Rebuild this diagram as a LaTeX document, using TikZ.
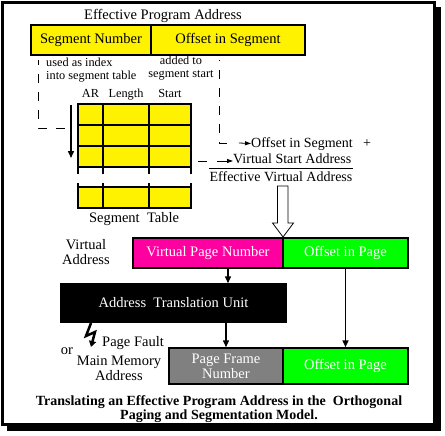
\documentclass[tikz,border=0pt]{standalone}
\usepackage{fontspec}
\setmainfont{Liberation Serif}
\usetikzlibrary{positioning, arrows.meta, calc}
\definecolor{VAMagenta}{RGB}{255,0,160}
\definecolor{VAGreen}{RGB}{0,255,0}
\definecolor{PFGray}{RGB}{128,128,128}

\begin{document}
\begin{tikzpicture}[x=1pt, y=-1pt,
          lbl/.style={font=\fontsize{14.5}{15}\selectfont, inner sep=0pt,
                      align=center},
          sumlbl/.style={font=\fontsize{14}{15}\selectfont, inner sep=0pt},
          note/.style={font=\fontsize{12.3}{12.5}\selectfont, inner sep=0pt},
          field/.style={draw, line width=1.5pt, minimum height=30pt,
                        inner sep=0pt, align=center,
                        font=\fontsize{14.5}{15}\selectfont},
          cell/.style={draw, line width=1.5pt, fill=yellow,
                       minimum height=21pt, inner sep=0pt},
          dashline/.style={dash pattern=on 9pt off 9pt, line width=0.8pt},
          tip/.style={-{Triangle[length=6pt, width=4pt]}, line width=0.8pt},
          arr/.style={-{Triangle[length=7pt, width=6pt]}, line width=1.5pt}
        ]
        \useasboundingbox (0,0) rectangle (445,436);
        \fill[white] (0,0) rectangle (445,436);

        % Frame with shadow
        \fill (7,7) rectangle (441,431);
        \draw[line width=3pt, fill=white] (2.5,2.5) rectangle (434,424);

        % Effective program address
        \node[lbl, anchor=base] (eptitle) at (163,20) {Effective Program Address};
        \node[field, fill=yellow, minimum width=120pt] (segnum) at (91,40)
              {Segment Number};
        \node[field, fill=yellow, minimum width=154pt] (offseg) at (228,40)
              {Offset in Segment};

        \node[note, align=left, anchor=north west] (idxnote) at (46,58)
              {used as index\\into segment table};
        \node[note, align=center, anchor=north] (addnote) at (181,56)
              {added to\\segment start};

        % Segment table
        \foreach \r/\y in {1/114.5, 2/135.5, 3/156.5, N/197.5} {
          \node[cell, minimum width=25pt] (ar\r) at (90.5,\y) {};
          \node[cell, minimum width=46pt] (len\r) at (126,\y) {};
          \node[cell, minimum width=42pt] (start\r) at (170,\y) {};
        }
        \foreach \x in {78,103,149,191} {
          \draw[line width=1.5pt] (\x,167) -- (\x,174);
          \draw[line width=1.5pt] (\x,183) -- (\x,187);
        }
        \node[note, anchor=base] (hdrar) at (ar1.north |- 0,98) {AR};
        \node[note, anchor=base] (hdrlen) at (len1.north |- 0,98) {Length};
        \node[note, anchor=base] (hdrstart) at (start1.north |- 0,98) {Start};
        \node[lbl, anchor=base] (segtab) at (134,222) {Segment\ \ Table};

        % Index into the table
        \coordinate (idxtop) at (38,60);
        \coordinate (idxend) at (65,128);
        \draw[dashline, dash phase=4pt] (idxtop) |- (idxend);
        \coordinate (rowtop) at (71,105);
        \coordinate (rowhit) at (71,158);
        \draw[arr] (rowtop) -- (rowhit);

        % Sum of offset and start address
        \node[sumlbl, anchor=base west] (offtxt) at (251,147) {Offset in Segment};
        \node[sumlbl, anchor=base] (plus) at (367,147) {+};
        \node[sumlbl, anchor=base west] (vstart) at (233,164) {Virtual Start Address};
        \node[sumlbl, anchor=base] (evatxt) at (281,182) {Effective Virtual Address};
        \draw[line width=0.8pt] (evatxt.west |- 0,168) -- (evatxt.east |- 0,168);

        \coordinate (addtop) at (219,60);
        \coordinate (addturn) at (228,143);
        \draw[dashline, dash phase=8pt] (addtop) |- (addturn);
        \coordinate (offtail) at (239,143);
        \draw[tip] (offtail) -- ([yshift=3.5pt]offtxt.base west);
        \coordinate (vsdash) at (198,161);
        \draw[line width=0.8pt] (vsdash) -- ++(9,0);
        \coordinate (vstail) at (217,161);
        \draw[tip] (vstail) -- ([yshift=3pt]vstart.base west);

        % Hollow arrow down to the virtual address
        \draw[line width=0.8pt, fill=white] (277.5,186) -- (288,186) -- (288,223)
              -- (293.5,223) -- (283,237) -- (272.5,223) -- (277.5,223) -- cycle;

        % Virtual address
        \node[lbl, anchor=north] (valbl) at (86,239) {Virtual\\Address};
        \node[field, fill=VAMagenta, text=white, minimum width=150pt]
              (vpn) at (208,253) {Virtual Page Number};
        \node[field, fill=VAGreen, text=white, minimum width=125pt]
              (offpg) at (345.5,253) {Offset in Page};

        % Address translation unit
        \node[field, fill=black, text=white, minimum width=225pt,
              minimum height=38pt] (atu) at (173.5,303)
              {Address\ \ Translation Unit};
        \draw[arr] ([xshift=20pt]vpn.south) -- ([xshift=20pt]vpn.south |- atu.north);

        % Main memory address
        \node[field, fill=PFGray, text=white, minimum width=114pt,
              minimum height=36pt] (pfn) at (226,366) {Page Frame\\Number};
        \node[field, fill=VAGreen, text=white, minimum width=125pt,
              minimum height=36pt] (offpg2) at (345.5,366) {Offset in Page};
        \draw[arr] (pfn.north |- atu.south) -- (pfn.north);
        \draw[arr] (offpg.south) -- (offpg2.north);

        % Page fault bolt
        \coordinate (bolttop) at (91,323);
        \draw[-{Triangle[length=6pt, width=7pt]}, line width=2.5pt]
              (bolttop) -- (86,336) -- (95,332) -- (91,347);
        \node[lbl, anchor=base west] (pftxt) at (102,346) {Page Fault};
        \node[lbl, anchor=base] (ortxt) at (67,354) {or};
        \node[lbl, anchor=north] (mmtxt) at (119,356) {Main Memory\\Address};

        % Caption
        \node[font=\bfseries\fontsize{14}{14}\selectfont, inner sep=0pt,
              align=center, anchor=north] (caption) at (219,395)
              {Translating an Effective Program Address in the\ \ Orthogonal\\
               Paging and Segmentation Model.};
      \end{tikzpicture}
\end{document}
